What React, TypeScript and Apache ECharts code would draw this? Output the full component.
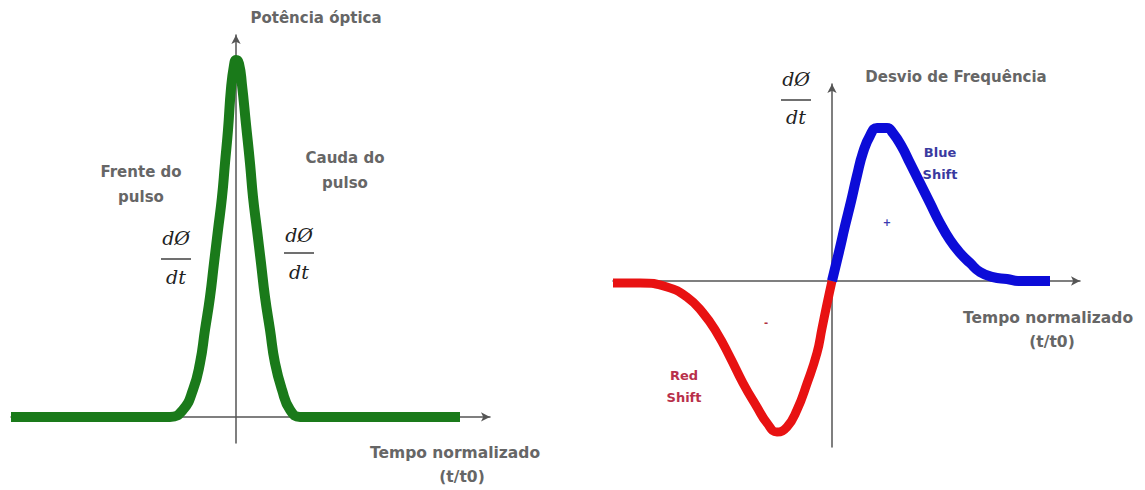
import React, { useEffect, useRef } from "react";
import * as echarts from "echarts";

// Optical power of the pulse vs normalized time (t/t0)
const pulseTime = [
  -4.5, -2.0, -1.32, -1.06, -0.86, -0.72, -0.62, -0.52, -0.44, -0.36, -0.28, -0.22, -0.16, -0.1, -0.04, 0,
  0.06, 0.12, 0.2, 0.28, 0.34, 0.42, 0.5, 0.58, 0.68, 0.78, 0.92, 1.08, 1.28, 2.0, 4.48,
];
const pulsePower = [
  0, 0, 0, 0.02, 0.076, 0.151, 0.244, 0.336, 0.431, 0.524, 0.616, 0.711, 0.804, 0.92, 0.985, 1.0,
  0.99, 0.93, 0.82, 0.711, 0.616, 0.524, 0.431, 0.336, 0.244, 0.151, 0.076, 0.02, 0, 0, 0,
];

// Frequency deviation (dØ/dt): leading edge, red shift
const redTime = [
  -4.38, -3.84, -3.3, -2.9, -2.58, -2.3, -2.04, -1.78, -1.5, -1.3, -1.1, -0.9, -0.7, -0.5, -0.3, -0.2,
  -0.1, 0,
];
const redShift = [
  -0.013, -0.013, -0.039, -0.105, -0.209, -0.34, -0.497, -0.667, -0.824, -0.928, -0.987, -0.954,
  -0.843, -0.67, -0.47, -0.31, -0.15, 0,
];

// Frequency deviation (dØ/dt): trailing edge, blue shift
const blueTime = [
  0, 0.14, 0.26, 0.38, 0.5, 0.62, 0.76, 0.9, 1.1, 1.22, 1.4, 1.56, 1.76, 1.96, 2.16, 2.36, 2.56, 2.76,
  2.96, 3.22, 3.5, 3.76, 4.36,
];
const blueShift = [
  0, 0.19, 0.36, 0.52, 0.69, 0.84, 0.95, 1.0, 1.0, 0.967, 0.876, 0.771, 0.641, 0.51, 0.379, 0.268,
  0.183, 0.118, 0.059, 0.026, 0.013, 0, 0,
];

const axisTitle = "Tempo normalizado";
const axisUnit = "(t/t0)";

const zip = (xs: number[], ys: number[]) => xs.map((x, i) => [x, ys[i]]);

const FONT = "'DejaVu Sans', sans-serif";
const MATH = "'DejaVu Serif', serif";
const GREY = "#555";
const TEXT = "#666";

function axisPair(gridIndex: number, xMin: number, xMax: number, yMin: number, yMax: number) {
  const line = {
    show: true,
    onZero: true,
    symbol: ["none", "arrow"],
    symbolSize: [7, 9],
    lineStyle: { color: GREY, width: 1.5 },
  };
  const common = {
    type: "value",
    gridIndex,
    axisLine: line,
    axisTick: { show: false },
    axisLabel: { show: false },
    splitLine: { show: false },
  };
  return {
    x: { ...common, min: xMin, max: xMax },
    y: { ...common, min: yMin, max: yMax },
  };
}

function label(text: string, x: number, y: number, size: number, color = TEXT, extra: any = {}) {
  return {
    type: "text",
    x,
    y,
    style: {
      text,
      fill: color,
      font: `${extra.style || "normal"} ${extra.weight || "bold"} ${size}px ${extra.family || FONT}`,
      align: "center",
      verticalAlign: "middle",
      lineHeight: extra.lineHeight,
    },
  };
}

function fraction(cx: number, yTop: number, yBar: number, yBottom: number) {
  const math = { family: MATH, style: "italic", weight: "normal" };
  return [
    label("dØ", cx, yTop, 19, "#222", math),
    {
      type: "line",
      shape: { x1: cx - 15, y1: yBar, x2: cx + 15, y2: yBar },
      style: { stroke: "#222", lineWidth: 1.3 },
    },
    label("dt", cx, yBottom, 19, "#222", math),
  ];
}

export default function App() {
  const ref = useRef<HTMLDivElement>(null);

  useEffect(() => {
    if (!ref.current) return;
    const chart = echarts.init(ref.current, null, { renderer: "svg" });

    const left = axisPair(0, -4.5, 5.08, -0.073, 1.07);
    const right = axisPair(1, -4.38, 4.96, -1.085, 1.288);

    const curve = (xi: number, data: number[][], color: string, width: number) => ({
      type: "line",
      xAxisIndex: xi,
      yAxisIndex: xi,
      data,
      smooth: 0.5,
      showSymbol: false,
      silent: true,
      lineStyle: { color, width, cap: "butt", join: "round" },
    });

    chart.setOption({
      animation: false,
      backgroundColor: "#ffffff",
      grid: [
        { left: 11, top: 35, width: 479, height: 408 },
        { left: 613, top: 84, width: 467, height: 363 },
      ],
      xAxis: [left.x, right.x],
      yAxis: [left.y, right.y],
      series: [
        curve(0, zip(pulseTime, pulsePower), "#1a7a1a", 10),
        curve(1, zip(redTime, redShift), "#e81212", 9),
        curve(1, zip(blueTime, blueShift), "#0c0cd8", 10),
      ],
      graphic: [
        label("Potência óptica", 316, 18, 15),
        label("Frente do\npulso", 141, 184, 15, TEXT, { lineHeight: 25 }),
        label("Cauda do\npulso", 345, 170, 15, TEXT, { lineHeight: 25 }),
        ...fraction(176, 238, 259, 277),
        ...fraction(299, 235, 253, 272),
        label(axisTitle, 455, 453, 15.5),
        label(axisUnit, 462, 477, 15.5),

        ...fraction(796, 79, 100, 117),
        label("Desvio de Frequência", 956, 77, 15),
        label("Blue\nShift", 940, 163, 13, "#3a3aa0", { lineHeight: 22 }),
        label("Red\nShift", 684, 386, 13, "#b8304a", { lineHeight: 22 }),
        label("+", 887, 222, 10, "#3a3ab0"),
        label("-", 766, 322, 10, "#b03040"),
        label(axisTitle, 1048, 318, 15.5),
        label(axisUnit, 1052, 342, 15.5),
      ],
    });

    return () => chart.dispose();
  }, []);

  return (
    <div
      ref={ref}
      style={{ position: "fixed", left: 0, top: 0, width: 1145, height: 490, background: "#fff" }}
    />
  );
}
